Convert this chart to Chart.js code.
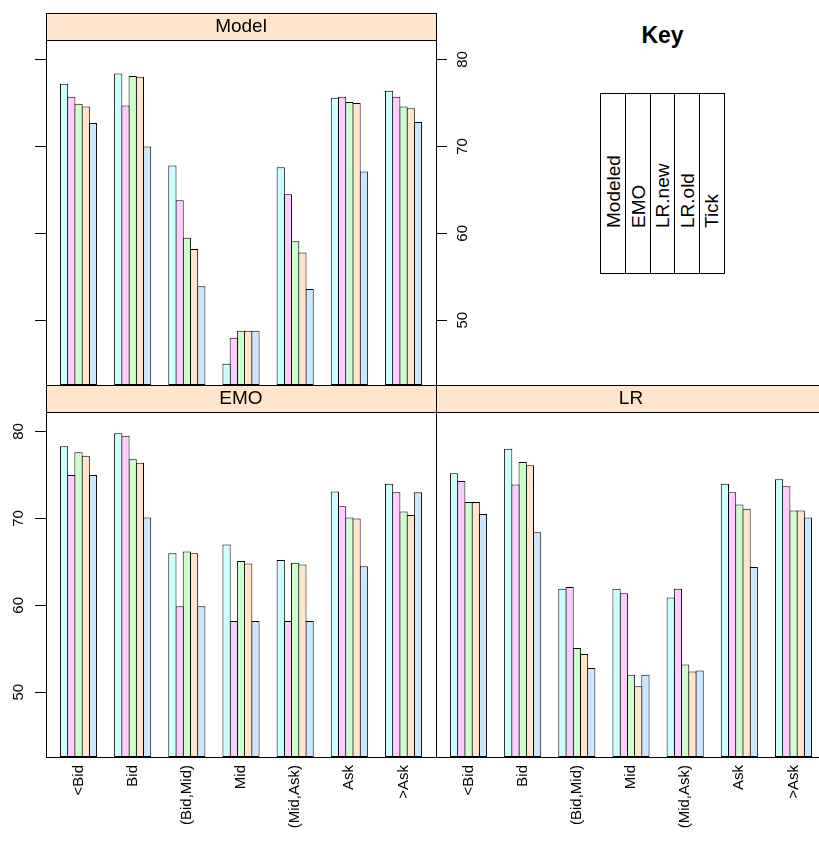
<!DOCTYPE html>
<html>
<head>
<meta charset="utf-8">
<script src="https://cdn.jsdelivr.net/npm/chart.js@4.4.1/dist/chart.umd.min.js"></script>
<style>
  html, body { margin: 0; padding: 0; background: #fff; overflow: hidden; }
  #page { position: relative; width: 819px; height: 842px; overflow: hidden;
          font-family: "Liberation Sans", Arial, sans-serif; color: #000; }
  canvas { position: absolute; }
  #keyTitle { position: absolute; left: 600px; top: 20px; width: 125px; line-height: 30px;
              text-align: center; font-weight: bold; font-size: 23px; }
  #key { position: absolute; left: 600px; top: 93px; width: 125px; height: 181px;
         border: 1px solid #000; box-sizing: border-box; }
  .col { position: absolute; top: 0; width: 25px; height: 179px; box-sizing: border-box; }
  .col.sep { border-right: 1px solid #000; }
  .col span { position: absolute; left: 0; top: 134px; line-height: 25px; font-size: 19px;
              white-space: nowrap; transform: rotate(-90deg); transform-origin: 0 0; }
</style>
</head>
<body>
<div id="page">
  <canvas id="modelChart" width="480" height="387" style="left:0;top:0"></canvas>
  <canvas id="emoChart" width="440" height="462" style="left:0;top:380px"></canvas>
  <canvas id="lrChart" width="400" height="462" style="left:430px;top:380px"></canvas>
  <div id="keyTitle">Key</div>
  <div id="key"></div>
</div>
<script>
// categories and series
const categories = ['<Bid', 'Bid', '(Bid,Mid)', 'Mid', '(Mid,Ask)', 'Ask', '>Ask'];
const seriesNames = ['Modeled', 'EMO', 'LR.new', 'LR.old', 'Tick'];
const yTickValues = [50, 60, 70, 80];

// panel "Model"
const modelModeled = [77.2, 78.4, 67.8, 45.0, 67.6, 75.6, 76.4];
const modelEMO     = [75.7, 74.7, 63.8, 48.0, 64.5, 75.7, 75.7];
const modelLRnew   = [74.9, 78.1, 59.5, 48.8, 59.1, 75.1, 74.6];
const modelLRold   = [74.6, 78.0, 58.2, 48.8, 57.8, 75.0, 74.4];
const modelTick    = [72.7, 70.0, 53.9, 48.8, 53.6, 67.1, 72.8];

// panel "EMO"
const emoModeled = [78.3, 79.8, 66.0, 67.0, 65.2, 73.1, 74.0];
const emoEMO     = [75.0, 79.5, 59.9, 58.2, 58.2, 71.4, 73.0];
const emoLRnew   = [77.6, 76.8, 66.2, 65.1, 64.9, 70.1, 70.8];
const emoLRold   = [77.2, 76.4, 66.0, 64.8, 64.7, 70.0, 70.4];
const emoTick    = [75.0, 70.1, 59.9, 58.2, 58.2, 64.5, 73.0];

// panel "LR"
const lrModeled = [75.2, 78.0, 61.9, 61.9, 60.9, 74.0, 74.5];
const lrEMO     = [74.3, 73.9, 62.1, 61.4, 61.9, 73.0, 73.7];
const lrLRnew   = [71.9, 76.5, 55.1, 52.0, 53.2, 71.6, 70.9];
const lrLRold   = [71.9, 76.1, 54.4, 50.7, 52.4, 71.1, 70.9];
const lrTick    = [70.5, 68.4, 52.8, 52.0, 52.5, 64.4, 70.1];

const seriesColors = ['#CCFFFF', '#FFCCFF', '#CCFFCC', '#FFE5CC', '#CCE6FF'];
const yMin = 42.55, yMax = 82.24;
const FONT = '"Liberation Sans", Arial, sans-serif';

Chart.defaults.font.family = FONT;
Chart.defaults.color = '#000';

// strip on top + black frame round the panel
const panelFrame = {
  id: 'panelFrame',
  afterDraw(chart, args, opts) {
    const { ctx, chartArea: a } = chart;
    const w = a.right - a.left;
    ctx.save();
    ctx.fillStyle = '#FFE5CC';
    ctx.fillRect(a.left, a.top - 27, w, 27);
    ctx.strokeStyle = '#000';
    ctx.lineWidth = 1;
    ctx.strokeRect(a.left + 0.5, a.top - 26.5, w, 27);
    ctx.strokeRect(a.left + 0.5, a.top + 0.5, w, a.bottom - a.top);
    ctx.fillStyle = '#000';
    ctx.font = '19px ' + FONT;
    ctx.textAlign = 'center';
    ctx.textBaseline = 'middle';
    ctx.fillText(opts.title, (a.left + a.right) / 2, a.top - 13);
    ctx.restore();
  }
};

function noPad(s) {
  s.paddingTop = 0; s.paddingBottom = 0; s.paddingLeft = 0; s.paddingRight = 0;
}

function yAxis(position, showLabels, width) {
  return {
    type: 'linear',
    position: position,
    min: yMin, max: yMax,
    afterBuildTicks: s => { s.ticks = yTickValues.map(v => ({ value: v })); },
    afterFit: s => { s.width = width; noPad(s); },
    border: { display: false },
    grid: { drawOnChartArea: false, drawTicks: true, tickLength: 11, color: '#000' },
    ticks: {
      display: showLabels,
      minRotation: 90, maxRotation: 90,
      crossAlign: 'center',
      padding: 8,
      font: { size: 15 }
    }
  };
}

function xAxis(showLabels) {
  return {
    type: 'linear',
    display: showLabels,
    offset: false,
    min: 0.4, max: 7.6,
    afterBuildTicks: s => { s.ticks = categories.map((c, i) => ({ value: i + 1 })); },
    afterFit: s => { s.height = showLabels ? 85 : 0; noPad(s); },
    border: { display: false },
    grid: { display: false, drawTicks: true, tickLength: 8 },
    ticks: {
      autoSkip: false,
      minRotation: 90, maxRotation: 90,
      padding: 0,
      font: { size: 15 },
      callback: (v, i) => categories[i]
    }
  };
}

function makePanel(id, title, rows, scales, padding) {
  const datasets = seriesNames.map((name, s) => ({
    label: name,
    data: rows[s].map((v, i) => ({ x: i + 1, y: v })),
    backgroundColor: seriesColors[s],
    borderColor: '#000',
    borderWidth: 1,
    borderSkipped: false,
    base: yMin,
    categoryPercentage: 2 / 3,
    barPercentage: 1.138
  }));
  new Chart(document.getElementById(id), {
    type: 'bar',
    data: { datasets },
    plugins: [panelFrame],
    options: {
      responsive: false,
      animation: false,
      layout: { padding },
      plugins: {
        legend: { display: false },
        tooltip: { enabled: false },
        panelFrame: { title }
      },
      scales
    }
  });
}

makePanel('modelChart', 'Model',
  [modelModeled, modelEMO, modelLRnew, modelLRold, modelTick],
  { x: xAxis(false), y: yAxis('left', false, 46), y2: yAxis('right', true, 44) },
  { top: 40, bottom: 2, left: 0, right: 0 });

makePanel('emoChart', 'EMO',
  [emoModeled, emoEMO, emoLRnew, emoLRold, emoTick],
  { x: xAxis(true), y: yAxis('left', true, 46) },
  { top: 32, bottom: 0, left: 0, right: 4 });

const lrY = yAxis('left', false, 0);
lrY.display = false;
makePanel('lrChart', 'LR',
  [lrModeled, lrEMO, lrLRnew, lrLRold, lrTick],
  { x: xAxis(true), y: lrY },
  { top: 32, bottom: 0, left: 6, right: 4 });

// key: one boxed column per series, text rotated
const key = document.getElementById('key');
seriesNames.forEach((name, i) => {
  const col = document.createElement('div');
  col.className = 'col' + (i < seriesNames.length - 1 ? ' sep' : '');
  col.style.left = (i * 24.6) + 'px';
  const span = document.createElement('span');
  span.textContent = name;
  col.appendChild(span);
  key.appendChild(col);
});
</script>
</body>
</html>
